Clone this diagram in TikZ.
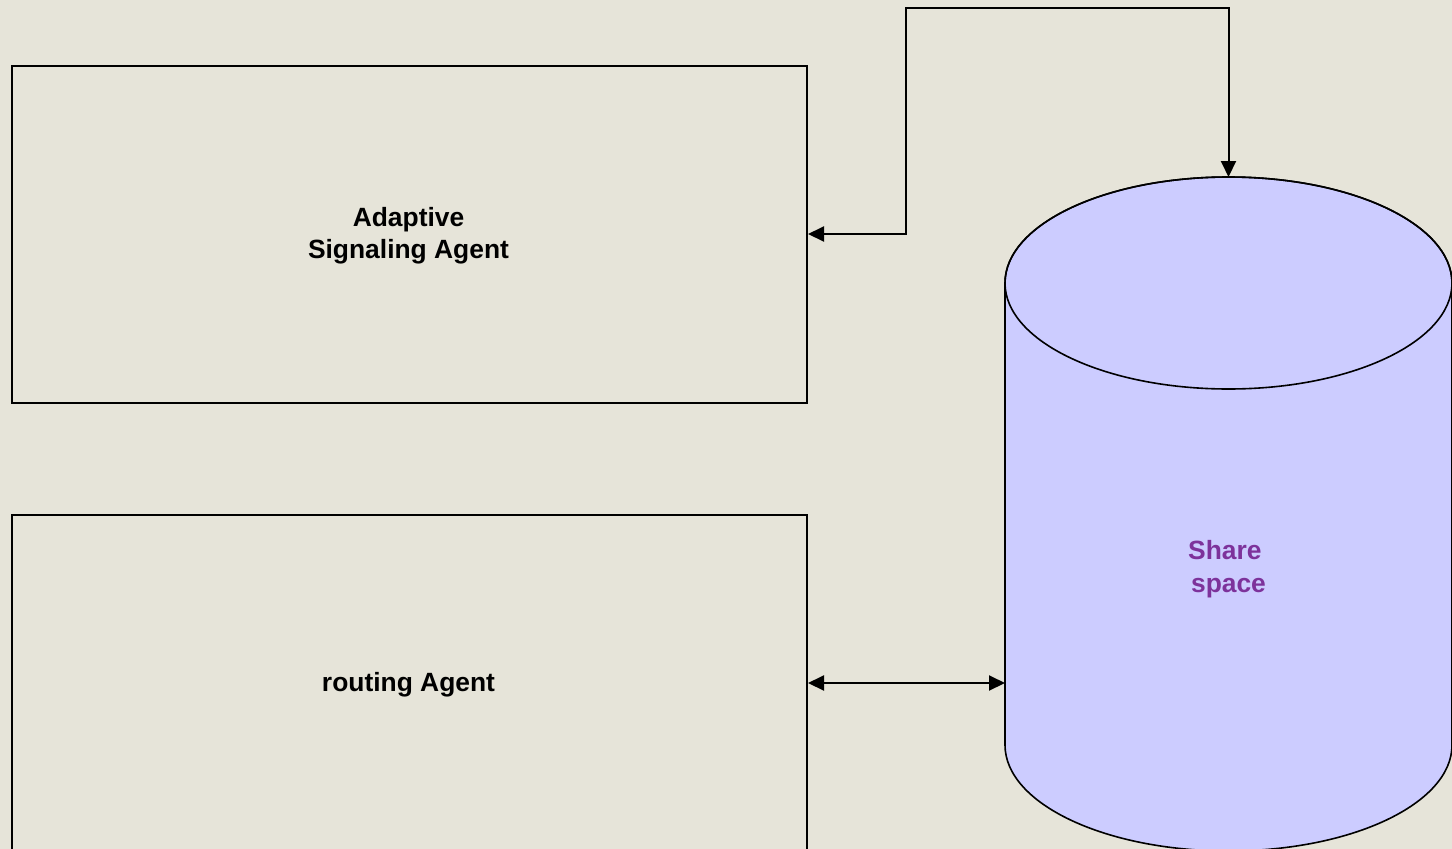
\documentclass[tikz,border=0pt]{standalone}
\usepackage{fontspec}
\setmainfont{Liberation Sans}
\usetikzlibrary{arrows.meta}
\definecolor{bg}{RGB}{230,228,217}
\definecolor{cylfill}{RGB}{204,204,255}
\definecolor{purpletext}{RGB}{125,50,155}
\tikzset{
  lbl/.style={font=\fontsize{26.4pt}{32.5pt}\selectfont\bfseries, align=center},
  agentbox/.style={draw=black, line width=2pt, fill=bg, minimum width=795pt, inner sep=0pt, text=black},
  bothconn/.style={draw=black, line width=2pt, line join=miter, {Triangle[length=16pt,width=15pt]}-{Triangle[length=16pt,width=15pt]}},
}
\begin{document}
\begin{tikzpicture}[x=1pt,y=-1pt]
\fill[bg] (0,0) rectangle (1452,849);
\useasboundingbox (0,0) rectangle (1452,849);

% boxes
\node[agentbox, minimum height=337pt, anchor=north west] (asa) at (11,65) {};
\node[lbl] (asatext) at (408.5,235.5) {Adaptive\\Signaling Agent};
\node[agentbox, minimum height=446pt, anchor=north west] (ra) at (11,514) {};
\node[lbl] (ratext) at (408.5,685) {routing Agent};

% cylinder
\path[fill=cylfill, draw=black, line width=1.6pt]
  (1005,283) -- (1005,745) arc[start angle=180, end angle=360, x radius=223.5pt, y radius=106pt]
  -- (1452,283) arc[start angle=0, end angle=180, x radius=223.5pt, y radius=106pt] -- cycle;
\draw[black, line width=1.6pt] (1228.5,283) ellipse[x radius=223.5pt, y radius=106pt];
\coordinate (cyltop) at (1228.5,177);
\coordinate (cylleft) at (1005,683);
\node[lbl, text=purpletext] (share) at (1228.5,569) {Share\hphantom{\ }\\space};

% connectors
\coordinate (c0) at (906,234);
\coordinate (c1) at (906,8);
\coordinate (c2) at (1228.5,8);
\draw[bothconn] (asa.east |- c0) -- (c0) -- (c1) -- (c2) -- (cyltop);
\draw[bothconn] (ra.east |- cylleft) -- (cylleft);
\end{tikzpicture}
\end{document}
